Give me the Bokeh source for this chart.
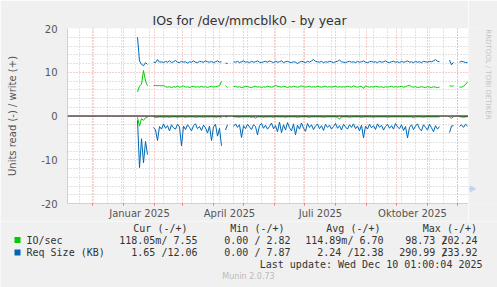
import math
import pandas as pd
from bokeh.plotting import figure
from bokeh.layouts import column, row
from bokeh.models import Range1d, FixedTicker, Span, ColumnDataSource
from bokeh.core.properties import value
from bokeh.embed import file_html
from bokeh.resources import INLINE

nan = float("nan")

# ---------------- data ----------------
series_start = "2025-01-15"     # first sample, samples every 2 days
range_start = "2024-11-06"
range_end = "2025-12-12"

io_write = [
    5.5, 6.8, 7.3, 10.4, 8.0, 6.9, nan, nan, 7.0, 7.0,
    6.9, 7.0, 6.9, 7.0, 6.7, 6.6, 6.7, 6.5, 6.7, 6.6,
    6.8, 6.6, 6.7, 6.9, 6.6, 6.7, 6.5, 6.7, 6.8, 6.6,
    6.7, 6.6, 6.8, 6.6, 6.7, 6.5, 6.7, 6.8, 6.6, 6.7,
    6.8, 6.9, 7.9, nan, 6.9, 6.5, nan, nan, 6.7, 6.8,
    6.6, 6.7, 6.5, 6.6, 6.8, 6.7, 6.6, 6.5, 6.7, 6.8,
    6.6, 6.7, 6.5, 6.7, 6.6, 6.8, 6.7, 6.6, 6.7, 7.0,
    6.8, 6.7, 6.6, 6.8, 6.7, 6.5, 6.7, 6.6, 6.8, 6.7,
    6.6, 6.7, 6.9, 6.7, 6.6, 6.7, 6.8, 6.6, 6.7, 6.6,
    6.8, 6.7, 6.6, 6.7, 6.8, 6.6, 6.7, 6.6, 6.7, 6.8,
    6.6, 6.7, 6.6, 6.7, 6.6, 6.8, 6.7, 6.6, 6.9, 6.7,
    6.6, 6.7, 6.8, 6.3, 6.9, 6.7, 6.6, 6.7, 6.6, 6.8,
    6.7, 6.6, 6.7, 6.5, 6.7, 6.6, 6.7, 6.8, 6.6, 6.7,
    6.6, 6.7, 6.8, 6.6, 6.7, 6.9, 7.0, 6.7, 6.6, 6.7,
    6.5, 6.6, 6.7, 6.6, 6.5, 6.7, 6.6, 6.5, 6.7, 6.6,
    6.5, 6.6, nan, nan, nan, nan, 6.9, 6.8, 6.9, nan,
    nan, 6.6, 6.6, 6.8, 7.2, 7.8,
]
io_read = [
    0.3, 2.3, 0.6, 1.0, 0.4, 0.3, nan, nan, 0.2, 0.3,
    0.3, 0.2, 0.2, 0.3, 0.2, 0.2, 0.3, 0.2, 0.2, 0.2,
    0.3, 0.2, 0.2, 0.2, 0.3, 0.2, 0.2, 0.2, 0.2, 0.3,
    0.2, 0.2, 0.2, 0.3, 0.2, 0.2, 0.2, 0.2, 0.2, 0.3,
    0.2, 0.2, 0.4, nan, 0.2, 0.2, nan, nan, 0.2, 0.2,
    0.2, 0.3, 0.2, 0.2, 0.2, 0.2, 0.2, 0.3, 0.2, 0.5,
    0.2, 0.2, 0.2, 0.3, 0.2, 0.2, 0.2, 0.2, 0.3, 0.2,
    0.2, 0.2, 0.2, 0.2, 0.3, 0.2, 0.2, 0.2, 0.2, 0.2,
    0.3, 0.2, 0.2, 0.2, 0.2, 0.2, 0.3, 0.2, 0.2, 0.2,
    0.2, 0.2, 0.2, 0.3, 0.2, 0.2, 0.2, 0.2, 0.2, 0.2,
    0.3, 0.7, 0.2, 0.2, 0.2, 0.2, 0.3, 0.2, 0.2, 0.2,
    0.2, 0.2, 0.3, 0.2, 0.2, 0.2, 0.2, 0.2, 0.3, 0.2,
    0.2, 0.2, 0.2, 0.2, 0.2, 0.3, 0.2, 0.2, 0.2, 0.2,
    0.2, 0.2, 0.2, 0.2, 0.2, 0.2, 0.2, 0.2, 0.4, 0.2,
    0.2, 0.2, 0.2, 0.3, 0.2, 0.2, 0.2, 0.2, 0.2, 0.2,
    0.2, 0.2, nan, nan, nan, nan, 0.3, 0.5, 0.2, nan,
    nan, 0.2, 0.2, 0.3, 0.2, 0.2,
]
req_write = [
    18.0, 12.6, 11.8, 11.5, 12.2, 11.8, nan, nan, 12.3, 12.2,
    12.9, 12.3, 12.4, 12.2, 12.5, 12.3, 12.6, 12.2, 12.4, 12.7,
    12.3, 12.2, 12.5, 12.3, 12.4, 12.1, 12.4, 12.3, 12.6, 12.3,
    12.2, 12.5, 12.4, 12.3, 12.6, 12.4, 12.3, 12.5, 12.2, 12.4,
    12.6, 12.3, 12.4, nan, 12.1, 12.0, nan, nan, 12.4, 12.3,
    12.5, 12.2, 12.4, 12.6, 12.3, 12.4, 12.2, 12.5, 12.3, 12.4,
    12.6, 12.3, 12.2, 12.4, 12.5, 12.3, 12.6, 12.4, 12.2, 12.5,
    12.3, 12.4, 12.6, 12.2, 12.4, 12.5, 12.3, 12.2, 12.4, 12.3,
    12.0, 12.3, 12.5, 12.4, 12.2, 12.5, 12.3, 12.6, 12.9, 12.5,
    12.4, 12.3, 12.5, 12.2, 12.4, 12.3, 12.5, 12.4, 12.2, 12.4,
    12.5, 12.8, 12.4, 12.3, 12.2, 12.4, 12.5, 12.3, 12.4, 12.2,
    12.5, 12.3, 12.4, 12.6, 12.3, 12.2, 12.4, 12.5, 12.3, 12.4,
    12.2, 12.5, 12.3, 12.4, 12.6, 12.3, 12.2, 12.4, 12.5, 12.3,
    12.4, 12.2, 12.5, 12.3, 12.4, 12.6, 12.3, 12.4, 12.2, 12.5,
    12.3, 12.4, 12.2, 12.5, 12.4, 12.3, 12.5, 12.4, 12.6, 12.9,
    12.5, 12.4, nan, nan, nan, nan, 12.8, 11.7, 12.3, nan,
    nan, 12.3, 12.5, 12.4, 12.2, 12.3,
]
req_read = [
    1.0, 11.8, 5.2, 10.7, 5.8, 8.8, nan, nan, 2.6, 3.2,
    5.6, 2.4, 3.0, 1.8, 2.8, 2.2, 3.4, 2.0, 2.7, 3.0,
    1.9, 2.5, 6.8, 2.3, 3.1, 2.0, 2.6, 3.4, 2.2, 1.8,
    2.9, 2.4, 3.3, 2.1, 2.7, 3.9, 2.3, 5.6, 2.5, 1.9,
    4.6, 2.8, 6.8, nan, 3.2, 2.0, nan, nan, 2.4, 1.8,
    2.6, 2.0, 4.9, 2.2, 2.9, 1.9, 2.5, 3.1, 2.0, 2.4,
    4.3, 2.2, 1.7, 2.8, 2.1, 3.0, 2.4, 1.6, 2.9, 2.2,
    3.6, 1.4, 3.8, 2.0, 3.2, 1.5, 2.7, 3.4, 1.8, 4.3,
    2.1, 3.0, 1.6, 2.8, 3.5, 1.7, 2.6, 2.0, 3.1, 2.3,
    1.8, 2.9, 2.2, 3.3, 1.9, 2.6, 2.1, 3.0, 2.4, 1.7,
    2.8, 2.2, 3.2, 1.9, 2.5, 3.0, 2.0, 2.6, 1.8, 2.9,
    2.3, 3.4, 2.1, 5.0, 2.3, 3.0, 1.9, 2.7, 2.2, 3.1,
    1.8, 2.6, 2.1, 3.2, 2.4, 1.9, 2.8, 2.2, 3.0, 1.7,
    2.5, 2.9, 2.0, 3.3, 2.4, 5.0, 2.6, 2.0, 3.1, 2.3,
    1.8, 2.9, 3.4, 2.0, 2.6, 3.2, 1.9, 2.7, 3.6, 2.2,
    3.0, 2.4, nan, nan, nan, nan, 3.8, 2.3, 2.2, nan,
    nan, 2.4, 2.0, 2.6, 1.9, 2.3,
]

x_label_dates = ["2025-01-17", "2025-04-17", "2025-07-17", "2025-10-17"]
x_labels = ["Januar 2025", "April 2025", "Juli 2025", "Oktober 2025"]
y_ticks = [-20, -10, 0, 10, 20]
y_labels = ["-20", "-10", "0", "10", "20"]

legend_header = ["Cur (-/+)", "Min (-/+)", "Avg (-/+)", "Max (-/+)"]
legend_names = ["IO/sec", "Req Size (KB)"]
legend_colors = ["#00CC00", "#0066B3"]
legend_io = ["118.05m/ 7.55", "0.00 / 2.82", "114.89m/ 6.70", "98.73 202.24"]
legend_req = ["1.65 /12.06", "0.00 / 7.87", "2.24 /12.38", "290.99 233.92"]
title_text = "IOs for /dev/mmcblk0 - by year"
y_title = "Units read (-) / write (+)"
last_update = "Last update: Wed Dec 10 01:00:04 2025"
footer = "Munin 2.0.73"
watermark = "RRDTOOL / TOBI OETIKER"

# ---------------- helpers ----------------
def ms(d):
    return int(pd.Timestamp(d).value // 10**6)

dates = pd.date_range(series_start, periods=len(io_write), freq="2D")
xs = [int(t.value // 10**6) for t in dates]
src = ColumnDataSource(dict(
    x=xs,
    io_w=io_write,
    io_r=[-v for v in io_read],
    rq_w=req_write,
    rq_r=[-v for v in req_read],
))

BG = "#F0F0F0"
W, H = 497, 287
MAIN_W, MAIN_H = 468, 221
FL, FT, FB = 67, 28, 203

p = figure(width=MAIN_W, height=MAIN_H, output_backend="svg", toolbar_location=None,
           x_range=Range1d(ms(range_start), ms(range_end)), y_range=Range1d(-20, 20),
           min_border_left=FL, min_border_right=0, min_border_top=FT,
           min_border_bottom=MAIN_H - FB)
p.border_fill_color = BG
p.background_fill_color = "#FFFFFF"
p.outline_line_color = None

p.title.text = title_text
p.title.align = "left"
p.title.offset = 85
p.title.vertical_align = "bottom"
p.title.standoff = 1
p.title.text_font = "DejaVu Sans"
p.title.text_font_size = "12.5px"
p.title.text_font_style = "normal"
p.title.text_color = "#333333"

month_starts = [ms(d) for d in pd.date_range("2024-12-01", "2025-12-01", freq="MS")]
biweekly = [ms(d) for d in pd.date_range("2024-11-18", range_end, freq="14D")]
label_pos = [ms(d) for d in x_label_dates]
y_minor = [v for v in range(-18, 19, 2) if v % 10]

grid_red = "#EE9A9A"
grid_grey = "#C4C4C4"
axis_col = "#C8D0F0"
text_col = "#555555"

p.xgrid.ticker = FixedTicker(ticks=month_starts, minor_ticks=biweekly)
p.ygrid.ticker = FixedTicker(ticks=y_ticks, minor_ticks=y_minor)
for g in (p.xgrid[0], p.ygrid[0]):
    g.grid_line_color = grid_red
    g.grid_line_dash = "1 2"
    g.minor_grid_line_color = grid_grey
    g.minor_grid_line_dash = "1 2"

xa = p.xaxis[0]
xa.ticker = FixedTicker(ticks=label_pos, minor_ticks=month_starts)
xa.major_label_overrides = {k: v for k, v in zip(label_pos, x_labels)}
xa.major_tick_line_color = None
xa.major_tick_out = 0
xa.major_tick_in = 0
xa.minor_tick_line_color = "#E07070"
xa.minor_tick_out = 2
xa.minor_tick_in = 0
xa.axis_line_color = axis_col
xa.major_label_standoff = 2
xa.major_label_text_font = "DejaVu Sans"
xa.major_label_text_font_size = "10px"
xa.major_label_text_color = text_col

ya = p.yaxis[0]
ya.ticker = FixedTicker(ticks=y_ticks, minor_ticks=y_minor)
ya.major_label_overrides = {k: v for k, v in zip(y_ticks, y_labels)}
ya.major_tick_line_color = None
ya.major_tick_out = 0
ya.major_tick_in = 0
ya.minor_tick_line_color = None
ya.axis_line_color = axis_col
ya.major_label_standoff = 6
ya.major_label_text_font = "DejaVu Sans"
ya.major_label_text_font_size = "10px"
ya.major_label_text_color = text_col
ya.axis_label = y_title
ya.axis_label_standoff = 20
ya.axis_label_text_font = "DejaVu Sans"
ya.axis_label_text_font_size = "10px"
ya.axis_label_text_font_style = "normal"
ya.axis_label_text_color = text_col

p.line("x", "io_r", source=src, line_color=legend_colors[0], line_width=1)
p.line("x", "io_w", source=src, line_color=legend_colors[0], line_width=1)
p.line("x", "rq_r", source=src, line_color=legend_colors[1], line_width=1)
p.line("x", "rq_w", source=src, line_color=legend_colors[1], line_width=1)
p.add_layout(Span(location=0, dimension="width", line_color="black", line_width=1))

# ---------------- right strip: axis arrow + watermark ----------------
def blank(w, h, x0, y0):
    f = figure(width=w, height=h, output_backend="svg", toolbar_location=None,
               x_range=Range1d(x0, x0 + w), y_range=Range1d(y0 + h, y0),
               min_border=0, x_axis_type=None, y_axis_type=None)
    f.border_fill_color = BG
    f.background_fill_color = BG
    f.outline_line_color = None
    f.grid.visible = False
    return f

wm = blank(W - MAIN_W, MAIN_H, MAIN_W, 0)
wm.segment(x0=[MAIN_W], y0=[FB - 0.5], x1=[471], y1=[FB - 0.5], line_color=axis_col, line_width=1)
wm.scatter(x=[471.5], y=[FB - 0.5], marker="triangle", angle=-math.pi / 2, size=6,
           fill_color=axis_col, line_color=axis_col)
wm.text(x=[487.5], y=[58], text=[watermark], angle=-math.pi / 2,
        text_font=value("DejaVu Sans"), text_font_size="7px", text_color="#C4C4C4",
        text_align="center", text_baseline="middle")

# ---------------- legend strip (bottom) ----------------
lg = blank(W, H - MAIN_H, 0, MAIN_H)
mono = dict(text_font=value("DejaVu Sans Mono"), text_font_size="10px",
            text_color="#333333", text_baseline="middle")

head_right = [187, 284, 380, 476.5]
val_right = [197, 290, 383, 477]
lg.text(x=head_right, y=[227.5] * 4, text=legend_header, text_align="right", **mono)

rows_y = [239.5, 252]
lg.rect(x=[17, 17], y=rows_y, width=6, height=6, fill_color=legend_colors, line_color=None)
lg.text(x=[26, 26], y=rows_y, text=legend_names, text_align="left", **mono)
for vals, Y in zip([legend_io, legend_req], rows_y):
    lg.text(x=val_right, y=[Y] * 4, text=vals, text_align="right", **mono)
lg.text(x=[444, 444], y=rows_y, text=["/", "/"], text_align="center", **mono)

lg.text(x=[482], y=[263.5], text=[last_update], text_align="right", **mono)
lg.text(x=[248], y=[276], text=[footer], text_align="center",
        text_font=value("DejaVu Sans"), text_font_size="8px", text_color="#BBBBBB",
        text_baseline="middle")

layout = column(row(p, wm, spacing=0), lg, spacing=0)
open("out.html", "w").write(file_html(layout, INLINE))
